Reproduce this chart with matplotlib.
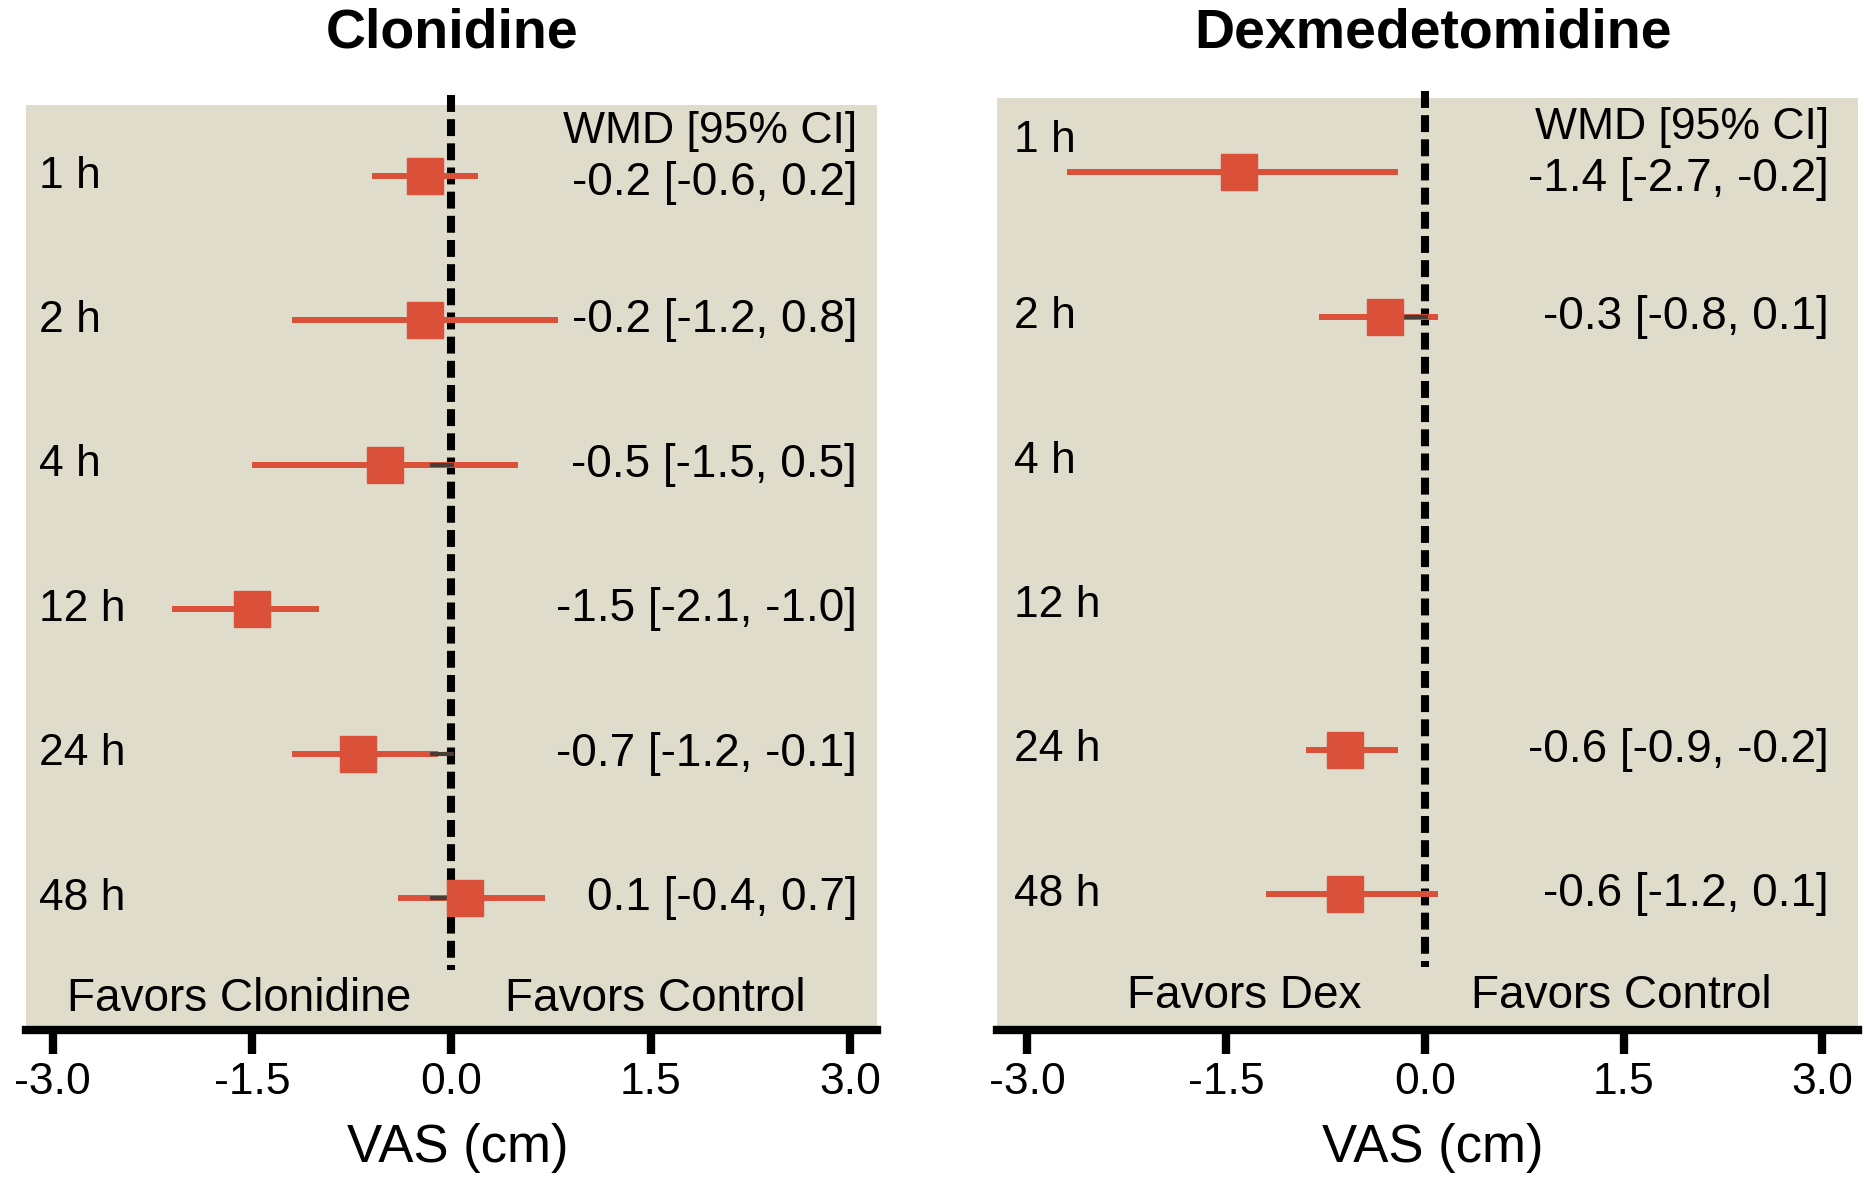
import matplotlib
matplotlib.use("Agg")
import matplotlib.pyplot as plt

plt.rcParams["font.family"] = ["Liberation Sans", "DejaVu Sans"]
plt.rcParams["axes.unicode_minus"] = False

# Data
times = ["1 h", "2 h", "4 h", "12 h", "24 h", "48 h"]
ticks = [-3.0, -1.5, 0.0, 1.5, 3.0]

clon_wmd = [-0.2, -0.2, -0.5, -1.5, -0.7, 0.1]
clon_low = [-0.6, -1.2, -1.5, -2.1, -1.2, -0.4]
clon_high = [0.2, 0.8, 0.5, -1.0, -0.1, 0.7]
clon_stub = [False, False, True, False, True, True]

dex_wmd = [-1.4, -0.3, None, None, -0.6, -0.6]
dex_low = [-2.7, -0.8, None, None, -0.9, -1.2]
dex_high = [-0.2, 0.1, None, None, -0.2, 0.1]
dex_stub = [False, True, False, False, False, False]

RED = "#da5039"
BG = "#e0dccb"


def fmt(v):
    return "%.1f" % v


def panel(ax, wmd, low, high, stub, favors, xlim, ylim, label_shift):
    ax.set_facecolor(BG)
    ax.set_xlim(*xlim)
    ax.set_ylim(*ylim)
    for s in ["top", "left", "right"]:
        ax.spines[s].set_visible(False)
    ax.spines["bottom"].set_linewidth(6)
    ax.spines["bottom"].set_capstyle("projecting")
    ax.set_yticks([])
    ax.set_xticks(ticks)
    ax.set_xticklabels([fmt(t) for t in ticks], fontsize=32)
    ax.tick_params(axis="x", direction="out", length=17, width=6, pad=6)

    # reference line at zero
    ax.plot([0, 0], [-0.56, 5.5], color="black", lw=5.8, dashes=(2.1, 0.9),
            clip_on=False, zorder=2)

    for i, t in enumerate(times):
        ax.text(-3.1, i + label_shift[i], t, fontsize=32, va="center", ha="left")
        if wmd[i] is None:
            continue
        ax.plot([low[i], high[i]], [i, i], color=RED, lw=4.3, zorder=3,
                solid_capstyle="butt")
        if stub[i]:
            ax.plot([-0.16, 0.02], [i, i], color="#4a3c35", lw=3, zorder=3.5,
                    solid_capstyle="butt")
        ax.plot(wmd[i], i, marker="s", ms=26, color=RED, zorder=4)
        dy = 0.05 if i == 0 else 0
        ax.text(3.05, i + dy, "%s [%s, %s]" % (fmt(wmd[i]), fmt(low[i]), fmt(high[i])),
                fontsize=33, va="center", ha="right")

    ax.text(3.05, -0.31, "WMD [95% CI]", fontsize=32, va="center", ha="right")
    ax.text(favors[0][1], 5.7, favors[0][0], fontsize=33, va="center", ha="center")
    ax.text(favors[1][1], 5.7, favors[1][0], fontsize=33, va="center", ha="center")


fig = plt.figure(figsize=(18.65, 11.77), dpi=100)

ax1 = fig.add_axes([26 / 1865, 147 / 1177, 851 / 1865, 925 / 1177])
panel(ax1, clon_wmd, clon_low, clon_high, clon_stub,
      [("Favors Clonidine", -1.6), ("Favors Control", 1.53)],
      (-3.2, 3.2), (5.914, -0.492), [0, 0, 0, 0, 0, 0])

ax2 = fig.add_axes([997 / 1865, 147 / 1177, 861 / 1865, 932.5 / 1177])
panel(ax2, dex_wmd, dex_low, dex_high, dex_stub,
      [("Favors Dex", -1.36), ("Favors Control", 1.48)],
      (-3.23, 3.27), (5.938, -0.516), [-0.22, 0, 0, 0, 0, 0])

# titles and axis labels
fig.text(452 / 1865, 1 - 33 / 1177, "Clonidine", fontsize=40, fontweight="bold",
         ha="center", va="center")
fig.text(1433 / 1865, 1 - 33 / 1177, "Dexmedetomidine", fontsize=40, fontweight="bold",
         ha="center", va="center")
fig.text(458 / 1865, 1 - 1148 / 1177, "VAS (cm)", fontsize=38, ha="center", va="center")
fig.text(1433 / 1865, 1 - 1148 / 1177, "VAS (cm)", fontsize=38, ha="center", va="center")

fig.savefig("out.png", dpi=100, facecolor="white")
